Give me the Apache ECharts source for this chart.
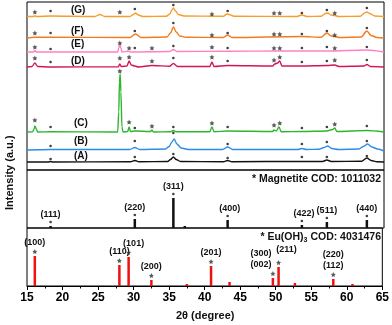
<!DOCTYPE html>
<html>
<head>
<meta charset="UTF-8">
<title>XRD</title>
<script src="https://cdn.jsdelivr.net/npm/echarts@6/dist/echarts.min.js"></script>
<style>html,body{margin:0;padding:0;background:#fff}#chart{width:392px;height:325px}</style>
</head>
<body>
<div id="chart"></div>
<script>
// measured patterns: [2theta, height above its own baseline]
var rowNames = ['(A)', '(B)', '(C)', '(D)', '(E)', '(F)', '(G)'];
var rowBase = [8, 20, 38, 103, 118, 132, 153];
var rowColor = ['#111111', '#2e8ce6', '#2db52d', '#d2145a', '#ff80c6', '#f47a1e', '#f79d2c'];

var curveA = [[15,0],[18.0,0],[18.3,0.5],[18.6,0],[29.5,0.3],[30.1,1.5],[30.7,0.3],[34.7,0.5],[35.1,2.5],[35.5,5],[35.9,2.5],[36.5,0.5],[42.5,0.3],[43.1,1.5],[43.7,0.3],[53.5,0.6],[56.4,0.5],[57.0,2],[57.6,0.5],[61.9,0.8],[62.6,4],[63.2,1.5],[64,0.3],[65,0]];
var curveB = [[15,0],[18.3,0.5],[29.4,0.5],[30.1,2.5],[30.8,0.5],[34.4,1],[34.9,3.5],[35.3,8],[35.6,11],[36.0,6],[36.6,2],[37.6,0.5],[42.4,0.5],[43.1,3],[43.8,0.5],[52.9,0.5],[53.5,1.5],[54.1,0.5],[55.9,0.8],[56.6,2.5],[57.1,4],[57.7,1.5],[58.6,0.5],[61.5,1],[62.1,3.5],[62.7,6],[63.3,3],[64.1,1],[65,-1]];
var curveC = [[15,0],[15.8,0.3],[16.0,3],[16.1,6],[16.3,3],[16.5,0],[18.3,0.3],[27.7,0],[27.85,20],[27.95,50],[28.05,58],[28.15,40],[28.3,5],[28.45,0],[29.1,0.5],[29.3,5],[29.5,0.5],[30.1,1],[32.3,0.5],[32.5,2],[32.7,0],[35.1,0.3],[35.5,1.5],[35.9,0.3],[40.6,0.3],[40.9,5],[41.2,0.3],[43.1,1],[49.4,0.5],[49.6,2],[49.9,1],[50.3,5],[50.6,0.3],[53.5,0.5],[57.0,1],[57.8,2.5],[58.1,4],[58.4,0.5],[62.6,1.5],[65,0]];
var curveD = [[15,0],[15.7,0.5],[16.1,4],[16.5,0.5],[18.3,0],[27.8,0.3],[28.0,3],[28.2,0.5],[29.0,1],[29.3,6],[29.6,2],[30.1,1],[30.6,0],[32.5,1.5],[35.0,0.8],[35.5,3.5],[36.1,0.5],[40.6,0.5],[40.9,5],[41.2,0.5],[43.1,1.5],[49.4,1],[49.7,3],[50.1,4],[50.4,6],[50.7,1],[52.7,1],[53.5,1],[57,1.5],[58.1,2],[58.7,0.5],[62.2,1],[62.6,2.5],[63.1,0.5],[65,0]];
var curveE = [[15,0],[15.9,0],[16.1,1.5],[16.3,0],[27.7,0],[27.85,4],[28.0,7],[28.15,4],[28.3,0],[29.2,0.8],[29.5,0],[35.0,0.5],[35.5,2.5],[36,0.5],[43.1,0.8],[50.4,1],[57,1],[62.6,2],[65,0]];
var curveF = [[15,0],[16.1,0.8],[18.3,0.8],[29.4,0.5],[30.2,4],[31,0.5],[34.6,1],[35.1,5],[35.5,11],[35.9,6],[36.4,2],[37.3,0.8],[42.5,0.5],[43.1,3],[43.7,0.5],[53.5,1.5],[56.2,0.8],[57.0,5],[57.6,2],[58.2,1.5],[58.7,0.5],[61.8,1],[62.6,7],[63.2,2.5],[64,0.5],[65,0]];
var curveG = [[15,0.5],[15.8,0.5],[16.1,1],[16.4,0.5],[18.3,1],[24.5,0.5],[25.2,2.5],[25.9,0.5],[29.4,0.5],[29.9,2.5],[30.2,4],[30.6,2],[31.2,0.5],[34.5,0.8],[35.0,3],[35.3,7],[35.5,9],[35.8,6],[36.2,2.5],[37,1],[42.5,0.8],[43.0,3],[43.3,2.5],[44,0.8],[52.8,0.5],[53.5,2],[54.2,0.5],[56.2,0.8],[56.8,3.5],[57.1,4],[57.6,2],[58.1,1.5],[58.6,0.5],[61.7,0.8],[62.3,4],[62.6,5],[63.0,3.5],[63.7,1],[65,0.5]];
var curves = [curveA, curveB, curveC, curveD, curveE, curveF, curveG];

// phase markers in the top panel: [2theta, level]
var starsC = [[16.1,50],[28.0,99],[29.3,48],[32.5,44],[40.9,47],[49.6,45],[50.4,47],[58.1,46]];
var dotsC = [[18.3,43],[30.1,42],[35.5,43],[43.1,43],[53.5,42],[57.0,43],[62.6,44]];
var starsD = [[16.1,112],[28.0,112],[29.3,113],[32.5,109],[40.9,113],[49.6,110],[50.4,113],[58.1,110]];
var dotsD = [[18.3,108],[35.5,112],[43.1,109],[53.5,108],[57.0,109],[62.6,110]];
var starsE = [[16.1,123],[28.0,127],[29.3,122],[32.5,122],[40.9,123],[49.6,122],[50.4,122],[58.1,122]];
var dotsE = [[18.3,121],[30.1,122],[35.5,124],[43.1,122],[53.5,122],[57.0,123],[62.6,123]];
var starsF = [[16.1,137],[40.9,135],[49.6,136],[50.4,136],[58.1,135]];
var dotsF = [[18.3,137],[30.1,139],[35.5,147],[43.1,137],[53.5,136],[57.0,139],[62.6,142]];
var starsG = [[16.1,158],[28.0,158],[40.9,156],[49.6,157],[50.4,157],[58.1,157]];
var dotsG = [[18.3,159],[30.1,161],[35.5,165],[43.1,159],[53.5,157],[57.0,160],[62.6,162]];
var dotsB = [[18.3,24],[30.1,29],[35.5,37],[43.1,26],[53.5,26],[57.0,28],[62.6,29]];
var dotsA = [[18.3,11],[30.1,13],[35.5,16],[43.1,12],[53.5,13],[57.0,13],[62.6,14]];

// reference patterns
var magPos = [18.3, 30.1, 35.5, 37.1, 43.1, 53.5, 57.0, 62.6];
var magHeight = [2, 9, 30, 2, 8, 3, 6, 8];
var magLabel = ['(111)', '(220)', '(311)', '', '(400)', '(422)', '(511)', '(440)'];
var euPos = [16.1, 28.0, 29.3, 32.5, 37.5, 40.9, 43.5, 49.6, 50.4, 52.7, 58.1, 60.8];
var euHeight = [30, 21, 29, 6, 2, 20, 4, 8, 19, 3, 7, 2];
var euLabel = ['(100)', '(110)', '(101)', '(200)', '', '(201)', '', '(300)\n(002)', '(211)', '', '(220)\n(112)', ''];

var FONT = 'Liberation Sans, Arial, sans-serif';
var STAR = 'path://M0,-10L2.9,-4L9.5,-3.1L4.8,1.5L5.9,8.1L0,5L-5.9,8.1L-4.8,1.5L-9.5,-3.1L-2.9,-4Z';
var labelShift = {'(101)': [5, 0], '(300)\n(002)': [-12, 0], '(211)': [8, -4], '(400)': [2, 0], '(422)': [2, 0]};

var chart = echarts.init(document.getElementById('chart'));
var series = [];

curves.forEach(function (c, i) {
	series.push({
		type: 'line', xAxisIndex: 0, yAxisIndex: 0,
		data: c.map(function (p) { return [p[0], p[1] + rowBase[i]]; }),
		showSymbol: false, smooth: 0.3, smoothMonotone: 'x',
		lineStyle: {color: rowColor[i], width: 1.4},
		silent: true, z: 2
	});
});

series.push({
	type: 'scatter', xAxisIndex: 0, yAxisIndex: 0, symbol: STAR, symbolSize: 5,
	itemStyle: {color: '#333'}, z: 5,
	data: [].concat(starsC, starsD, starsE, starsF, starsG)
});
series.push({
	type: 'scatter', xAxisIndex: 0, yAxisIndex: 0, symbol: 'circle', symbolSize: 2.6,
	itemStyle: {color: '#111'}, z: 5,
	data: [].concat(dotsA, dotsB, dotsC, dotsD, dotsE, dotsF, dotsG)
});

function barData(pos, h, lab) {
	return pos.map(function (x, i) {
		var d = {value: [x, h[i]], name: lab[i]};
		if (labelShift[lab[i]]) d.label = {offset: labelShift[lab[i]]};
		return d;
	});
}

series.push({
	type: 'bar', xAxisIndex: 1, yAxisIndex: 1, barWidth: 2.5,
	itemStyle: {color: '#111'},
	label: {show: true, position: 'top', distance: 6, color: '#111', fontFamily: FONT, fontWeight: 'bold', fontSize: 9, lineHeight: 11,
		formatter: function (p) { return p.name; }},
	data: barData(magPos, magHeight, magLabel)
});
series.push({
	type: 'scatter', xAxisIndex: 1, yAxisIndex: 1, symbol: 'circle', symbolSize: 2.6, symbolOffset: [0, -4],
	itemStyle: {color: '#111'}, z: 5,
	data: magPos.map(function (x, i) { return [x, magHeight[i]]; }).filter(function (d, i) { return magLabel[i]; })
});

series.push({
	type: 'bar', xAxisIndex: 2, yAxisIndex: 2, barWidth: 2.5,
	itemStyle: {color: '#ee1111'},
	label: {show: true, position: 'top', distance: 8, color: '#111', fontFamily: FONT, fontWeight: 'bold', fontSize: 9, lineHeight: 11,
		formatter: function (p) { return p.name; }},
	data: barData(euPos, euHeight, euLabel)
});
series.push({
	type: 'scatter', xAxisIndex: 2, yAxisIndex: 2, symbol: STAR, symbolSize: 5, symbolOffset: [0, -4.5],
	itemStyle: {color: '#333'}, z: 5,
	data: euPos.map(function (x, i) { return [x, euHeight[i]]; }).filter(function (d, i) { return euLabel[i]; })
});

function xAx(idx, showLabels) {
	return {
		type: 'value', gridIndex: idx, min: 15, max: 65, interval: 5,
		axisLine: {show: showLabels, lineStyle: {color: '#000', width: 1}},
		axisTick: {show: showLabels, length: 4, lineStyle: {color: '#000'}},
		minorTick: {show: showLabels, splitNumber: 2, length: 2.5, lineStyle: {color: '#000'}},
		axisLabel: {show: showLabels, color: '#000', fontFamily: FONT, fontWeight: 'bold', fontSize: 12, margin: 6},
		splitLine: {show: false}
	};
}
function yAx(idx, max) {
	return {type: 'value', gridIndex: idx, min: 0, max: max, show: false, splitLine: {show: false}};
}

var gridStyle = {show: true, borderColor: '#000', borderWidth: 1, left: 27, right: 8};

var textStyle = {fontFamily: FONT, fontWeight: 'bold', fill: '#111', fontSize: 10};
var graphics = [];
var rowLabelPos = [[82, 157], [82, 142], [82, 124], [79, 62], [79, 45], [79, 32], [79, 11]];
rowNames.forEach(function (n, i) {
	graphics.push({type: 'text', left: rowLabelPos[i][0] - 8, top: rowLabelPos[i][1] - 6, style: Object.assign({text: n}, textStyle)});
});
graphics.push({type: 'text', right: 11, top: 174, style: Object.assign({}, textStyle, {text: '* Magnetite COD: 1011032', fontSize: 10.5})});
graphics.push({type: 'text', right: 11, top: 232, style: {
	text: '{a|* Eu(OH)}{s|3}{a| COD: 4031476}',
	rich: {a: {fontFamily: FONT, fontWeight: 'bold', fontSize: 10.5, fill: '#111'},
		s: {fontFamily: FONT, fontWeight: 'bold', fontSize: 7, fill: '#111', padding: [6, 0, 0, 0]}}
}});
graphics.push({type: 'text', x: 4, y: 210, rotation: Math.PI / 2, style: Object.assign({}, textStyle, {text: 'Intensity (a.u.)', fontSize: 11})});
graphics.push({type: 'text', left: 176, top: 310, style: Object.assign({}, textStyle, {text: '2θ (degree)', fontSize: 11})});

chart.setOption({
	animation: false,
	backgroundColor: '#fff',
	grid: [
		Object.assign({top: 2, height: 168}, gridStyle),
		Object.assign({top: 170, height: 58}, gridStyle),
		Object.assign({top: 228, height: 58}, gridStyle)
	],
	xAxis: [xAx(0, false), xAx(1, false), xAx(2, true)],
	yAxis: [yAx(0, 168), yAx(1, 58), yAx(2, 58)],
	series: series,
	graphic: graphics
});
</script>
</body>
</html>
